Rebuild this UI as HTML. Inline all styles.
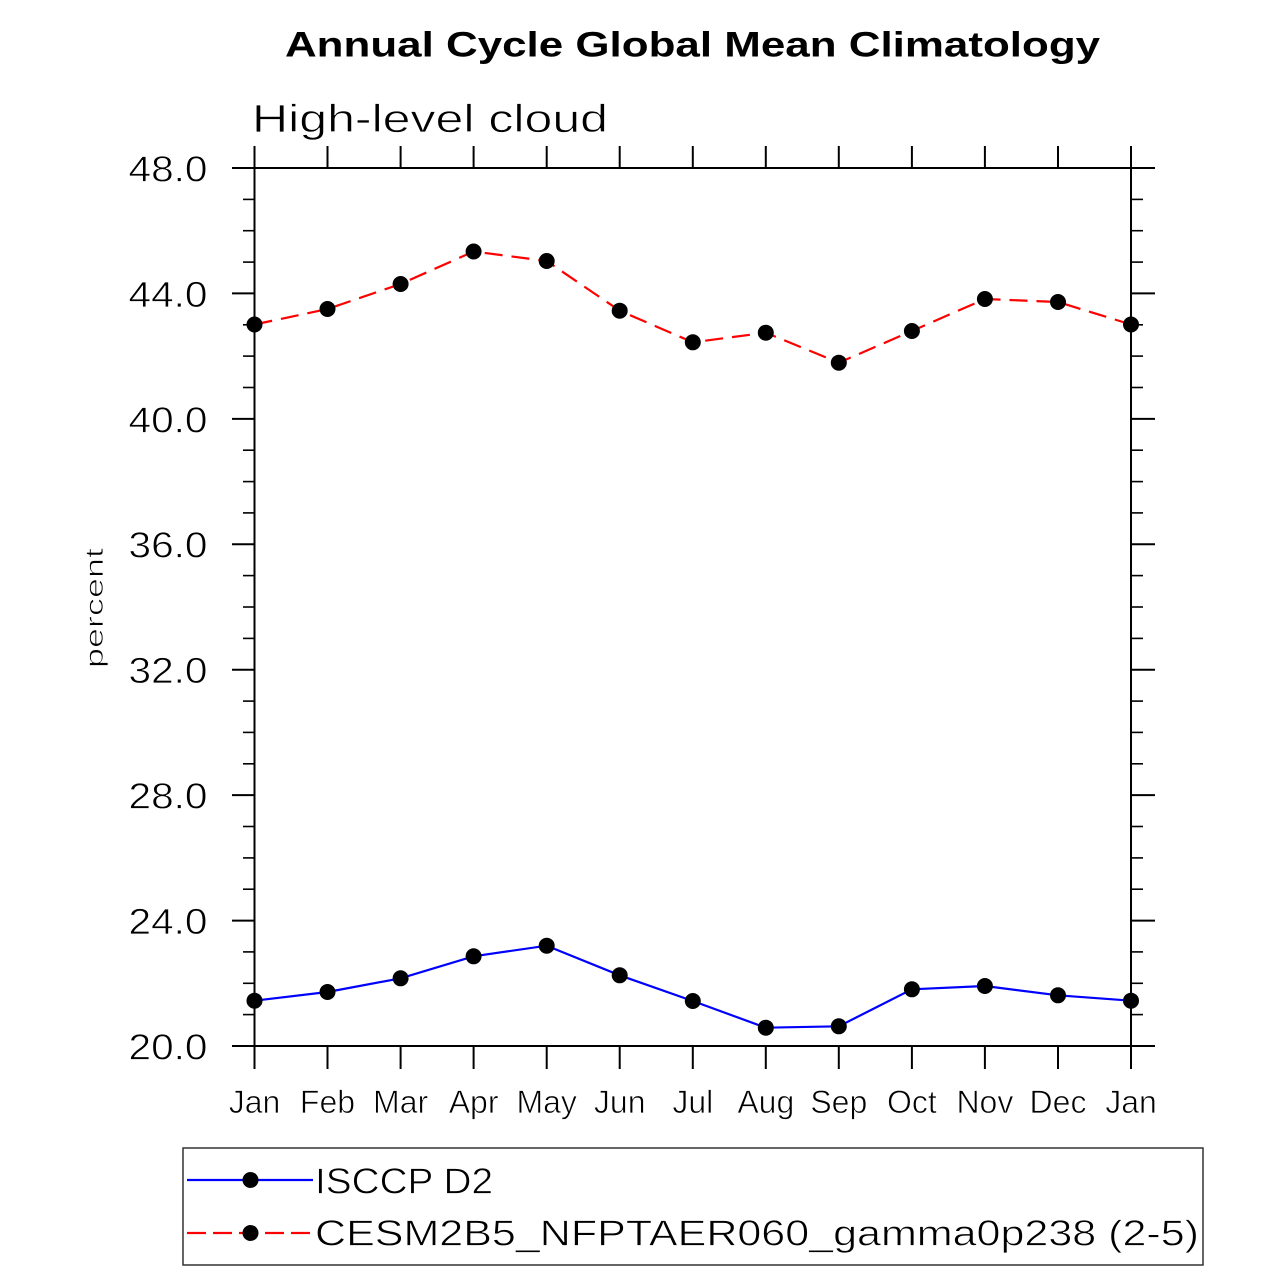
<!DOCTYPE html>
<html>
<head>
<meta charset="utf-8">
<style>
  html, body { margin: 0; padding: 0; background: #ffffff; }
  svg { display: block; }
  text { font-family: "Liberation Sans", sans-serif; fill: #000; }
  .thin { stroke: #ffffff; stroke-width: 0.7; }
</style>
</head>
<body>
<svg width="1285" height="1271" viewBox="0 0 1285 1271" xmlns="http://www.w3.org/2000/svg">
  <rect x="0" y="0" width="1285" height="1271" fill="#ffffff"/>

  <!-- Title (horizontally stretched wide bold font) -->
  <text x="0" y="0" font-size="35" font-weight="bold" text-anchor="middle" textLength="649" lengthAdjust="spacingAndGlyphs" transform="translate(692.5,56.7) scale(1.256,1)">Annual Cycle Global Mean Climatology</text>

  <!-- Subtitle -->
  <text class="thin" x="252" y="132" font-size="39" textLength="356" lengthAdjust="spacingAndGlyphs">High-level cloud</text>

  <!-- Y axis label -->
  <text class="thin" x="0" y="0" font-size="25" text-anchor="middle" textLength="120" lengthAdjust="spacingAndGlyphs" transform="translate(103,608) rotate(-90)">percent</text>

  <!-- Frame -->
  <rect x="254.5" y="168" width="876.5" height="878" fill="none" stroke="#000" stroke-width="2"/>

  <!-- Y major ticks (outward both sides) -->
  <g stroke="#000" stroke-width="2">
    <line x1="232" y1="168" x2="254.5" y2="168"/>
    <line x1="232" y1="293.4" x2="254.5" y2="293.4"/>
    <line x1="232" y1="418.9" x2="254.5" y2="418.9"/>
    <line x1="232" y1="544.3" x2="254.5" y2="544.3"/>
    <line x1="232" y1="669.7" x2="254.5" y2="669.7"/>
    <line x1="232" y1="795.1" x2="254.5" y2="795.1"/>
    <line x1="232" y1="920.6" x2="254.5" y2="920.6"/>
    <line x1="232" y1="1046" x2="254.5" y2="1046"/>
    <line x1="1131" y1="168" x2="1155" y2="168"/>
    <line x1="1131" y1="293.4" x2="1155" y2="293.4"/>
    <line x1="1131" y1="418.9" x2="1155" y2="418.9"/>
    <line x1="1131" y1="544.3" x2="1155" y2="544.3"/>
    <line x1="1131" y1="669.7" x2="1155" y2="669.7"/>
    <line x1="1131" y1="795.1" x2="1155" y2="795.1"/>
    <line x1="1131" y1="920.6" x2="1155" y2="920.6"/>
    <line x1="1131" y1="1046" x2="1155" y2="1046"/>
  </g>

  <!-- Y minor ticks -->
  <g stroke="#000" stroke-width="1.6">
    <line x1="243" y1="199.4" x2="254.5" y2="199.4"/><line x1="1131" y1="199.4" x2="1143" y2="199.4"/>
    <line x1="243" y1="230.7" x2="254.5" y2="230.7"/><line x1="1131" y1="230.7" x2="1143" y2="230.7"/>
    <line x1="243" y1="262.1" x2="254.5" y2="262.1"/><line x1="1131" y1="262.1" x2="1143" y2="262.1"/>
    <line x1="243" y1="324.8" x2="254.5" y2="324.8"/><line x1="1131" y1="324.8" x2="1143" y2="324.8"/>
    <line x1="243" y1="356.1" x2="254.5" y2="356.1"/><line x1="1131" y1="356.1" x2="1143" y2="356.1"/>
    <line x1="243" y1="387.5" x2="254.5" y2="387.5"/><line x1="1131" y1="387.5" x2="1143" y2="387.5"/>
    <line x1="243" y1="450.2" x2="254.5" y2="450.2"/><line x1="1131" y1="450.2" x2="1143" y2="450.2"/>
    <line x1="243" y1="481.6" x2="254.5" y2="481.6"/><line x1="1131" y1="481.6" x2="1143" y2="481.6"/>
    <line x1="243" y1="512.9" x2="254.5" y2="512.9"/><line x1="1131" y1="512.9" x2="1143" y2="512.9"/>
    <line x1="243" y1="575.6" x2="254.5" y2="575.6"/><line x1="1131" y1="575.6" x2="1143" y2="575.6"/>
    <line x1="243" y1="607.0" x2="254.5" y2="607.0"/><line x1="1131" y1="607.0" x2="1143" y2="607.0"/>
    <line x1="243" y1="638.4" x2="254.5" y2="638.4"/><line x1="1131" y1="638.4" x2="1143" y2="638.4"/>
    <line x1="243" y1="701.1" x2="254.5" y2="701.1"/><line x1="1131" y1="701.1" x2="1143" y2="701.1"/>
    <line x1="243" y1="732.4" x2="254.5" y2="732.4"/><line x1="1131" y1="732.4" x2="1143" y2="732.4"/>
    <line x1="243" y1="763.8" x2="254.5" y2="763.8"/><line x1="1131" y1="763.8" x2="1143" y2="763.8"/>
    <line x1="243" y1="826.5" x2="254.5" y2="826.5"/><line x1="1131" y1="826.5" x2="1143" y2="826.5"/>
    <line x1="243" y1="857.9" x2="254.5" y2="857.9"/><line x1="1131" y1="857.9" x2="1143" y2="857.9"/>
    <line x1="243" y1="889.2" x2="254.5" y2="889.2"/><line x1="1131" y1="889.2" x2="1143" y2="889.2"/>
    <line x1="243" y1="951.9" x2="254.5" y2="951.9"/><line x1="1131" y1="951.9" x2="1143" y2="951.9"/>
    <line x1="243" y1="983.3" x2="254.5" y2="983.3"/><line x1="1131" y1="983.3" x2="1143" y2="983.3"/>
    <line x1="243" y1="1014.6" x2="254.5" y2="1014.6"/><line x1="1131" y1="1014.6" x2="1143" y2="1014.6"/>
  </g>

  <!-- X ticks top and bottom (outward) -->
  <g stroke="#000" stroke-width="2">
    <line x1="254.5" y1="146" x2="254.5" y2="168"/><line x1="254.5" y1="1046" x2="254.5" y2="1069"/>
    <line x1="327.5" y1="146" x2="327.5" y2="168"/><line x1="327.5" y1="1046" x2="327.5" y2="1069"/>
    <line x1="400.6" y1="146" x2="400.6" y2="168"/><line x1="400.6" y1="1046" x2="400.6" y2="1069"/>
    <line x1="473.6" y1="146" x2="473.6" y2="168"/><line x1="473.6" y1="1046" x2="473.6" y2="1069"/>
    <line x1="546.7" y1="146" x2="546.7" y2="168"/><line x1="546.7" y1="1046" x2="546.7" y2="1069"/>
    <line x1="619.7" y1="146" x2="619.7" y2="168"/><line x1="619.7" y1="1046" x2="619.7" y2="1069"/>
    <line x1="692.8" y1="146" x2="692.8" y2="168"/><line x1="692.8" y1="1046" x2="692.8" y2="1069"/>
    <line x1="765.8" y1="146" x2="765.8" y2="168"/><line x1="765.8" y1="1046" x2="765.8" y2="1069"/>
    <line x1="838.8" y1="146" x2="838.8" y2="168"/><line x1="838.8" y1="1046" x2="838.8" y2="1069"/>
    <line x1="911.9" y1="146" x2="911.9" y2="168"/><line x1="911.9" y1="1046" x2="911.9" y2="1069"/>
    <line x1="984.9" y1="146" x2="984.9" y2="168"/><line x1="984.9" y1="1046" x2="984.9" y2="1069"/>
    <line x1="1058.0" y1="146" x2="1058.0" y2="168"/><line x1="1058.0" y1="1046" x2="1058.0" y2="1069"/>
    <line x1="1131" y1="146" x2="1131" y2="168"/><line x1="1131" y1="1046" x2="1131" y2="1069"/>
  </g>

  <!-- Y tick labels -->
  <g class="thin" font-size="36.5" text-anchor="end">
    <text x="207.5" y="181.4" textLength="79" lengthAdjust="spacingAndGlyphs">48.0</text>
    <text x="207.5" y="306.8" textLength="79" lengthAdjust="spacingAndGlyphs">44.0</text>
    <text x="207.5" y="432.3" textLength="79" lengthAdjust="spacingAndGlyphs">40.0</text>
    <text x="207.5" y="557.7" textLength="79" lengthAdjust="spacingAndGlyphs">36.0</text>
    <text x="207.5" y="683.1" textLength="79" lengthAdjust="spacingAndGlyphs">32.0</text>
    <text x="207.5" y="808.5" textLength="79" lengthAdjust="spacingAndGlyphs">28.0</text>
    <text x="207.5" y="934.0" textLength="79" lengthAdjust="spacingAndGlyphs">24.0</text>
    <text x="207.5" y="1059.4" textLength="79" lengthAdjust="spacingAndGlyphs">20.0</text>
  </g>

  <!-- X tick labels -->
  <g class="thin" font-size="32" text-anchor="middle">
    <text x="254.5" y="1113">Jan</text>
    <text x="327.5" y="1113">Feb</text>
    <text x="400.6" y="1113">Mar</text>
    <text x="473.6" y="1113">Apr</text>
    <text x="546.7" y="1113">May</text>
    <text x="619.7" y="1113">Jun</text>
    <text x="692.8" y="1113">Jul</text>
    <text x="765.8" y="1113">Aug</text>
    <text x="838.8" y="1113">Sep</text>
    <text x="911.9" y="1113">Oct</text>
    <text x="984.9" y="1113">Nov</text>
    <text x="1058.0" y="1113">Dec</text>
    <text x="1131" y="1113">Jan</text>
  </g>

  <!-- Red dashed series (model) -->
  <polyline fill="none" stroke="#ff0000" stroke-width="2.2" stroke-dasharray="18 9"
    points="254.5,324.5 327.5,309 400.6,284 473.6,251.5 546.7,261 619.7,310.7 692.8,342.3 765.8,332.7 838.8,362.7 911.9,331 984.9,299 1058.0,302 1131,324.5"/>
  <g fill="#000">
    <circle cx="254.5" cy="324.5" r="8"/>
    <circle cx="327.5" cy="309" r="8"/>
    <circle cx="400.6" cy="284" r="8"/>
    <circle cx="473.6" cy="251.5" r="8"/>
    <circle cx="546.7" cy="261" r="8"/>
    <circle cx="619.7" cy="310.7" r="8"/>
    <circle cx="692.8" cy="342.3" r="8"/>
    <circle cx="765.8" cy="332.7" r="8"/>
    <circle cx="838.8" cy="362.7" r="8"/>
    <circle cx="911.9" cy="331" r="8"/>
    <circle cx="984.9" cy="299" r="8"/>
    <circle cx="1058.0" cy="302" r="8"/>
    <circle cx="1131" cy="324.5" r="8"/>
  </g>

  <!-- Blue solid series (ISCCP D2) -->
  <polyline fill="none" stroke="#0000ff" stroke-width="2.2"
    points="254.5,1000.7 327.5,992 400.6,978.3 473.6,956.3 546.7,945.7 619.7,975.3 692.8,1001 765.8,1027.7 838.8,1026.3 911.9,989.3 984.9,986 1058.0,995.3 1131,1000.7"/>
  <g fill="#000">
    <circle cx="254.5" cy="1000.7" r="8"/>
    <circle cx="327.5" cy="992" r="8"/>
    <circle cx="400.6" cy="978.3" r="8"/>
    <circle cx="473.6" cy="956.3" r="8"/>
    <circle cx="546.7" cy="945.7" r="8"/>
    <circle cx="619.7" cy="975.3" r="8"/>
    <circle cx="692.8" cy="1001" r="8"/>
    <circle cx="765.8" cy="1027.7" r="8"/>
    <circle cx="838.8" cy="1026.3" r="8"/>
    <circle cx="911.9" cy="989.3" r="8"/>
    <circle cx="984.9" cy="986" r="8"/>
    <circle cx="1058.0" cy="995.3" r="8"/>
    <circle cx="1131" cy="1000.7" r="8"/>
  </g>

  <!-- Legend -->
  <rect x="183" y="1148" width="1020" height="117" fill="#ffffff" stroke="#333" stroke-width="1.5"/>
  <line x1="187" y1="1180" x2="313" y2="1180" stroke="#0000ff" stroke-width="2.2"/>
  <circle cx="250.5" cy="1180" r="8" fill="#000"/>
  <text class="thin" x="315" y="1193.5" font-size="36.5" textLength="178" lengthAdjust="spacingAndGlyphs">ISCCP D2</text>

  <line x1="187" y1="1233" x2="313" y2="1233" stroke="#ff0000" stroke-width="2.2" stroke-dasharray="19 7"/>
  <circle cx="250.5" cy="1233" r="8" fill="#000"/>
  <text class="thin" x="315" y="1245.7" font-size="36.5" textLength="884" lengthAdjust="spacingAndGlyphs">CESM2B5_NFPTAER060_gamma0p238 (2-5)</text>
</svg>
</body>
</html>
